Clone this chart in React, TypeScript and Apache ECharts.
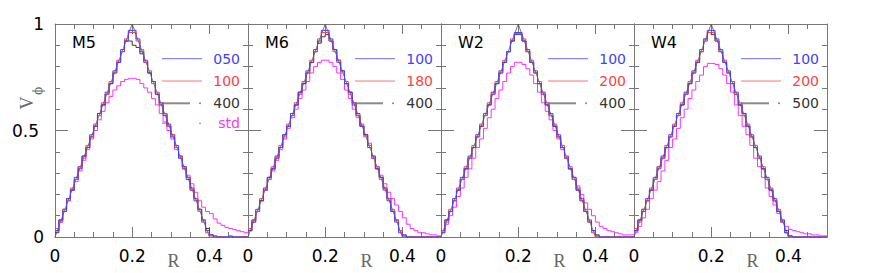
import React, { useEffect, useRef } from "react";
import * as echarts from "echarts";

// ---------------- data ----------------
const panelNames = ["M5", "M6", "W2", "W4"];
const legendLabels = [
  ["050", "100", "400", "std"],
  ["100", "180", "400"],
  ["100", "200", "400"],
  ["100", "200", "500"],
];
const binWidth = 0.01; // histogram bins start at R = 0
const exactR = [0, 0.2, 0.4];
const exactV = [0, 1, 0];
const xTickLabels = [0, 0.2, 0.4];
const yTickLabels = [0, 0.5, 1];

const m5Blue = [0.03,0.08,0.12,0.18,0.22,0.28,0.32,0.38,0.42,0.48,0.52,0.58,0.62,0.68,0.72,0.78,0.82,0.88,0.92,0.97,0.97,0.93,0.87,0.83,0.77,0.73,0.67,0.63,0.57,0.53,0.47,0.43,0.37,0.33,0.27,0.23,0.17,0.13,0.07,0.03,0.01,0,0,0,0,0.005,0,0,0,0];
const m5Red = [0.04,0.07,0.13,0.17,0.23,0.27,0.33,0.37,0.43,0.47,0.53,0.57,0.63,0.67,0.73,0.77,0.83,0.87,0.93,0.96,0.96,0.92,0.88,0.82,0.78,0.72,0.68,0.62,0.58,0.52,0.48,0.42,0.38,0.32,0.28,0.22,0.18,0.12,0.08,0.02,0.005,0,0,0,0,0,0,0,0,0];
const m5Black = [0.02,0.08,0.13,0.18,0.22,0.27,0.33,0.38,0.42,0.47,0.52,0.58,0.62,0.67,0.72,0.77,0.82,0.87,0.92,0.92,0.90,0.89,0.86,0.82,0.77,0.73,0.67,0.62,0.58,0.52,0.48,0.42,0.38,0.32,0.28,0.22,0.18,0.13,0.08,0.04,0.01,0.005,0,0,0,0,0,0,0,0];
const m5Std = [0.03,0.07,0.12,0.17,0.22,0.26,0.31,0.36,0.41,0.46,0.5,0.55,0.59,0.63,0.66,0.69,0.71,0.73,0.74,0.745,0.745,0.74,0.72,0.7,0.68,0.65,0.62,0.58,0.54,0.5,0.46,0.41,0.37,0.33,0.29,0.25,0.21,0.17,0.14,0.12,0.11,0.085,0.065,0.055,0.045,0.04,0.035,0.03,0.025,0.02];

const m6Blue = [0.03,0.07,0.13,0.17,0.23,0.28,0.32,0.38,0.42,0.48,0.52,0.58,0.62,0.68,0.72,0.78,0.82,0.88,0.92,0.97,0.97,0.93,0.88,0.82,0.78,0.72,0.68,0.62,0.58,0.52,0.48,0.42,0.38,0.32,0.28,0.22,0.17,0.12,0.07,0.02,0.005,0,0,0,0,0,0,0,0,0];
const m6Red = [0.04,0.08,0.12,0.18,0.22,0.27,0.33,0.37,0.43,0.47,0.53,0.57,0.63,0.67,0.73,0.77,0.83,0.87,0.93,0.96,0.96,0.92,0.87,0.83,0.77,0.73,0.67,0.63,0.57,0.53,0.47,0.43,0.37,0.33,0.27,0.23,0.18,0.13,0.08,0.03,0,0,0,0,0,0,0,0,0,0];
const m6Black = [0.03,0.08,0.12,0.17,0.22,0.28,0.32,0.37,0.42,0.48,0.52,0.57,0.62,0.68,0.72,0.77,0.82,0.87,0.91,0.94,0.95,0.92,0.88,0.83,0.78,0.72,0.68,0.63,0.57,0.52,0.48,0.43,0.37,0.32,0.28,0.23,0.18,0.12,0.08,0.03,0.01,0,0,0,0,0,0,0,0,0];
const m6Std = [0.03,0.07,0.12,0.17,0.22,0.27,0.31,0.36,0.41,0.46,0.51,0.56,0.6,0.65,0.69,0.73,0.77,0.8,0.82,0.83,0.83,0.82,0.8,0.77,0.74,0.69,0.65,0.6,0.56,0.52,0.48,0.44,0.38,0.33,0.29,0.25,0.21,0.18,0.15,0.12,0.09,0.06,0.04,0.03,0.02,0.02,0.015,0.01,0.01,0.005];

const w2Blue = [0.02,0.08,0.12,0.18,0.22,0.28,0.32,0.38,0.42,0.48,0.52,0.58,0.62,0.68,0.72,0.78,0.82,0.87,0.92,0.96,0.96,0.92,0.88,0.82,0.78,0.72,0.68,0.62,0.58,0.52,0.48,0.42,0.38,0.32,0.28,0.22,0.18,0.12,0.08,0.03,0.005,0,0,0,0,0,0,0,0,0];
const w2Red = [0.03,0.07,0.13,0.17,0.23,0.27,0.33,0.37,0.43,0.47,0.53,0.57,0.63,0.67,0.73,0.77,0.83,0.87,0.93,0.955,0.955,0.93,0.87,0.83,0.77,0.73,0.67,0.63,0.57,0.53,0.47,0.43,0.37,0.33,0.27,0.23,0.17,0.13,0.07,0.02,0,0,0,0,0,0,0,0,0,0];
const w2Black = [0.03,0.08,0.12,0.17,0.22,0.27,0.32,0.37,0.42,0.47,0.52,0.57,0.62,0.67,0.72,0.77,0.82,0.87,0.92,0.95,0.95,0.92,0.87,0.82,0.77,0.72,0.67,0.62,0.57,0.52,0.47,0.42,0.37,0.32,0.27,0.22,0.17,0.12,0.07,0.03,0.01,0,0,0,0,0,0,0,0,0];
const w2Std = [0.02,0.06,0.1,0.14,0.19,0.23,0.28,0.32,0.37,0.42,0.46,0.51,0.56,0.6,0.65,0.69,0.73,0.77,0.8,0.82,0.82,0.81,0.79,0.76,0.72,0.68,0.63,0.59,0.55,0.5,0.46,0.41,0.37,0.32,0.28,0.24,0.2,0.16,0.13,0.1,0.07,0.05,0.04,0.03,0.025,0.02,0.015,0.01,0.01,0.01];

const w4Blue = [0.03,0.08,0.12,0.18,0.22,0.28,0.32,0.38,0.42,0.48,0.52,0.58,0.62,0.68,0.72,0.78,0.82,0.88,0.92,0.97,0.97,0.93,0.88,0.82,0.78,0.72,0.68,0.62,0.58,0.52,0.48,0.42,0.38,0.32,0.28,0.22,0.18,0.12,0.08,0.02,0.005,0,0,0,0,0,0,0,0,0];
const w4Red = [0.04,0.07,0.13,0.17,0.23,0.27,0.33,0.37,0.43,0.47,0.53,0.57,0.63,0.67,0.73,0.77,0.83,0.87,0.93,0.96,0.96,0.92,0.87,0.83,0.77,0.73,0.67,0.63,0.57,0.53,0.47,0.43,0.37,0.33,0.27,0.23,0.17,0.13,0.07,0.02,0.005,0,0,0,0,0,0,0,0,0];
const w4Black = [0.03,0.08,0.13,0.17,0.22,0.27,0.33,0.37,0.42,0.47,0.52,0.57,0.62,0.67,0.72,0.77,0.82,0.87,0.93,0.96,0.95,0.92,0.87,0.82,0.77,0.73,0.67,0.62,0.58,0.52,0.47,0.42,0.37,0.32,0.27,0.22,0.17,0.12,0.07,0.03,0.005,0,0,0,0,0,0,0,0,0];
const w4Std = [0.02,0.05,0.09,0.13,0.18,0.22,0.26,0.31,0.36,0.42,0.46,0.51,0.56,0.6,0.65,0.69,0.73,0.76,0.8,0.815,0.815,0.81,0.79,0.76,0.72,0.68,0.62,0.57,0.52,0.48,0.43,0.37,0.33,0.28,0.23,0.19,0.15,0.11,0.08,0.05,0.035,0.03,0.025,0.02,0.015,0.015,0.01,0.01,0.005,0.005];

const panelSeries = [
  [m5Blue, m5Red, m5Black, m5Std],
  [m6Blue, m6Red, m6Black, m6Std],
  [w2Blue, w2Red, w2Black, w2Std],
  [w4Blue, w4Red, w4Black, w4Std],
];

// ---------------- styling / layout ----------------
const COLORS = ["#4444ff", "#ff4444", "#3a3a3a", "#ff30ff"];
const TEXT_COLORS = ["#4040ff", "#ff4040", "#333333", "#ff33ff"];
const AXIS_COLOR = "#777777";
const GRID_LEFT = 55;
const GRID_W = 193;
const GRID_TOP = 24;
const GRID_H = 213;
const SANS = "DejaVu Sans";

function histPoints(values: number[]) {
  const pts: number[][] = values.map((v, i) => [+(i * binWidth).toFixed(4), v]);
  pts.push([+(values.length * binWidth).toFixed(4), values[values.length - 1]]);
  return pts;
}

export default function App() {
  const ref = useRef<HTMLDivElement>(null);
  useEffect(() => {
    if (!ref.current) return;
    const chart = echarts.init(ref.current, undefined, { renderer: "svg" });
    const grids: any[] = [];
    const xAxes: any[] = [];
    const yAxes: any[] = [];
    const series: any[] = [];
    const graphics: any[] = [];

    panelNames.forEach((name, p) => {
      const x0 = GRID_LEFT + p * GRID_W;
      grids.push({
        left: x0,
        top: GRID_TOP,
        width: GRID_W,
        height: GRID_H,
        containLabel: false,
        outerBoundsMode: "none",
      });
      const baseX = { gridIndex: p, type: "value", min: 0, max: 0.5, splitLine: { show: false } };
      const mainXIndex = xAxes.length;
      xAxes.push({
        ...baseX,
        position: "bottom",
        interval: 0.05,
        axisLine: { show: true, onZero: false, lineStyle: { color: AXIS_COLOR, width: 1 } },
        axisTick: { show: true, inside: true, length: 5, lineStyle: { color: AXIS_COLOR } },
        axisLabel: {
          show: true,
          customValues: xTickLabels,
          margin: 10,
          fontSize: 17,
          fontFamily: SANS,
          color: "#000",
        },
      });
      xAxes.push({
        ...baseX,
        position: "bottom",
        axisLine: { show: false, onZero: false },
        axisTick: { show: true, inside: true, length: 10, customValues: [0.2, 0.4], lineStyle: { color: AXIS_COLOR } },
        axisLabel: { show: false },
      });
      xAxes.push({
        ...baseX,
        position: "top",
        interval: 0.05,
        axisLine: { show: true, onZero: false, lineStyle: { color: AXIS_COLOR, width: 1 } },
        axisTick: { show: true, inside: true, length: 5, lineStyle: { color: AXIS_COLOR } },
        axisLabel: { show: false },
      });
      xAxes.push({
        ...baseX,
        position: "top",
        axisLine: { show: false, onZero: false },
        axisTick: { show: true, inside: true, length: 10, customValues: [0.2, 0.4], lineStyle: { color: AXIS_COLOR } },
        axisLabel: { show: false },
      });

      const baseY = { gridIndex: p, type: "value", min: 0, max: 1, splitLine: { show: false } };
      const mainYIndex = yAxes.length;
      yAxes.push({
        ...baseY,
        position: "left",
        interval: 0.1,
        axisLine: { show: true, onZero: false, lineStyle: { color: AXIS_COLOR, width: 1 } },
        axisTick: { show: true, inside: true, length: 5, lineStyle: { color: AXIS_COLOR } },
        axisLabel: {
          show: p === 0,
          customValues: yTickLabels,
          margin: 11,
          formatter: (v: number) => (v === 0.5 ? "{h|0.5}" : "{n|" + v + "}"),
          rich: {
            n: { fontSize: 17, fontFamily: SANS, color: "#000" },
            h: { fontSize: 17, fontFamily: SANS, color: "#000", padding: [0, 5, 0, 0] },
          },
        },
      });
      yAxes.push({
        ...baseY,
        position: "left",
        axisLine: { show: false, onZero: false },
        axisTick: { show: true, inside: true, length: 13, customValues: [0.5], lineStyle: { color: AXIS_COLOR } },
        axisLabel: { show: false },
      });
      yAxes.push({
        ...baseY,
        position: "right",
        interval: 0.1,
        axisLine: { show: true, onZero: false, lineStyle: { color: AXIS_COLOR, width: 1 } },
        axisTick: { show: true, inside: true, length: 5, lineStyle: { color: AXIS_COLOR } },
        axisLabel: { show: false },
      });
      yAxes.push({
        ...baseY,
        position: "right",
        axisLine: { show: false, onZero: false },
        axisTick: { show: true, inside: true, length: 13, customValues: [0.5], lineStyle: { color: AXIS_COLOR } },
        axisLabel: { show: false },
      });

      const order = [3, 2, 1, 0];
      order.forEach((k) => {
        series.push({
          type: "line",
          name: name + "-" + k,
          xAxisIndex: mainXIndex,
          yAxisIndex: mainYIndex,
          step: "end",
          symbol: "none",
          silent: true,
          data: histPoints(panelSeries[p][k]),
          lineStyle: { color: COLORS[k], width: 1 },
          z: 2 + (3 - k),
        });
      });
      series.push({
        type: "line",
        name: name + "-exact",
        xAxisIndex: mainXIndex,
        yAxisIndex: mainYIndex,
        symbol: "none",
        silent: true,
        data: exactR.map((r, i) => [r, exactV[i]]),
        lineStyle: { color: "#555555", width: 0.8 },
        z: 1,
      });

      graphics.push({
        type: "text",
        x: x0 + 17,
        y: 42,
        style: {
          text: name,
          fill: "#000",
          font: `16px "${SANS}"`,
          align: "left",
          textAlign: "left",
          verticalAlign: "middle",
          textVerticalAlign: "middle",
        },
      });
      graphics.push({
        type: "text",
        x: x0 + 118.5,
        y: 261,
        style: {
          text: "R",
          fill: "#666",
          font: `18px "Liberation Serif"`,
          align: "center",
          textAlign: "center",
          verticalAlign: "middle",
          textVerticalAlign: "middle",
        },
      });
      const rowsY = [58.7, 81, 103.3, 123.3];
      legendLabels[p].forEach((lab, k) => {
        const y = rowsY[k];
        if (k < 2) {
          graphics.push({
            type: "line",
            shape: { x1: x0 + 107, y1: y, x2: x0 + 147, y2: y },
            style: { stroke: k === 0 ? "#6a6aff" : "#ff7070", lineWidth: 1 },
          });
        } else if (k === 2) {
          graphics.push({
            type: "line",
            shape: { x1: x0 + 107, y1: y, x2: x0 + 135, y2: y },
            style: { stroke: "#8a8a8a", lineWidth: 2 },
          });
          graphics.push({ type: "circle", shape: { cx: x0 + 145, cy: y, r: 0.9 }, style: { fill: "#777" } });
        } else {
          graphics.push({
            type: "line",
            shape: { x1: x0 + 107, y1: y, x2: x0 + 114, y2: y },
            style: { stroke: "#ff40ff", lineWidth: 1 },
          });
          graphics.push({ type: "circle", shape: { cx: x0 + 145, cy: y, r: 0.8 }, style: { fill: "#ff40ff" } });
        }
        graphics.push({
          type: "text",
          x: x0 + 185,
          y: y,
          style: {
            text: lab,
            fill: TEXT_COLORS[k],
            font: `14px "${SANS}"`,
            align: "right",
            textAlign: "right",
            verticalAlign: "middle",
            textVerticalAlign: "middle",
          },
        });
      });
    });

    graphics.push({
      type: "text",
      x: 27,
      y: 103,
      rotation: Math.PI / 2,
      style: {
        text: "V",
        fill: "#666",
        font: `18px "Liberation Serif"`,
        align: "center",
        textAlign: "center",
        verticalAlign: "middle",
        textVerticalAlign: "middle",
      },
    });
    graphics.push({
      type: "text",
      x: 38,
      y: 91,
      rotation: Math.PI / 2,
      style: {
        text: "ϕ",
        fill: "#666",
        font: `12px "DejaVu Serif"`,
        align: "center",
        textAlign: "center",
        verticalAlign: "middle",
        textVerticalAlign: "middle",
      },
    });

    chart.setOption({
      animation: false,
      backgroundColor: "#ffffff",
      grid: grids,
      xAxis: xAxes,
      yAxis: yAxes,
      series,
      graphic: graphics,
    });
    return () => chart.dispose();
  }, []);
  return (
    <div
      ref={ref}
      style={{ position: "absolute", left: 0, top: 0, width: 872, height: 273, background: "#fff" }}
    />
  );
}
